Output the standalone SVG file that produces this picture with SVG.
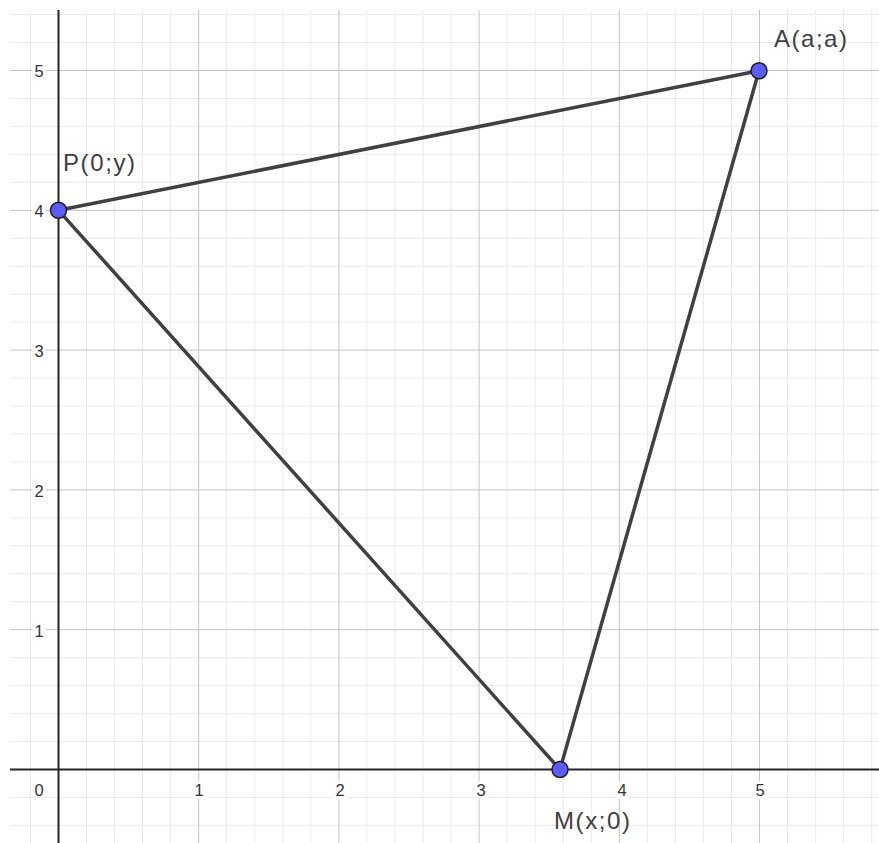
<svg xmlns="http://www.w3.org/2000/svg" width="879" height="843" viewBox="0 0 879 843">
<style>
.minor{stroke:#ebebeb;stroke-width:1;fill:none}
.major{stroke:#c4c4c4;stroke-width:1;fill:none}
.axis{stroke:#252525;stroke-width:2;fill:none}
.num{font-family:"Liberation Sans",Arial,sans-serif;font-size:16.5px;fill:#333;text-anchor:middle}
.lbl{font-family:"Liberation Sans",Arial,sans-serif;font-size:24px;fill:#404040}
.bg{fill:#fff}
.seg{stroke:#404040;stroke-width:3.5;stroke-linecap:round;fill:none}
.pt{fill:#5b5bff;stroke:#1e1e1e;stroke-width:1.5}
</style>
<rect width="879" height="843" fill="#fff"/>
<g id="grid">
<path class="minor" d="M30.5 10V843M86.5 10V843M114.6 10V843M142.6 10V843M170.7 10V843M226.7 10V843M254.8 10V843M282.8 10V843M310.9 10V843M366.9 10V843M395 10V843M423 10V843M451.1 10V843M507.1 10V843M535.2 10V843M563.2 10V843M591.3 10V843M647.3 10V843M675.4 10V843M703.4 10V843M731.5 10V843M787.5 10V843M815.6 10V843M843.6 10V843M871.7 10V843"/>
<path class="minor" d="M10 741.5H879M10 713.6H879M10 685.6H879M10 657.7H879M10 601.7H879M10 573.8H879M10 545.8H879M10 517.9H879M10 461.9H879M10 434H879M10 406H879M10 378.1H879M10 322.1H879M10 294.2H879M10 266.2H879M10 238.3H879M10 182.3H879M10 154.4H879M10 126.4H879M10 98.5H879M10 42.5H879M10 14.6H879M10 797.5H879M10 825.4H879"/>
<path class="major" d="M198.7 10V843M338.9 10V843M479.1 10V843M619.3 10V843M759.5 10V843"/>
<path class="major" d="M10 629.7H879M10 489.9H879M10 350.1H879M10 210.3H879M10 70.5H879"/>
</g>
<g id="axes">
<line class="axis" x1="58.5" y1="10" x2="58.5" y2="843"/>
<line class="axis" x1="10" y1="769.5" x2="879" y2="769.5"/>
</g>
<g id="tick-labels">
<rect class="bg" x="32" y="62" width="14" height="18"/>
<text class="num" x="39" y="77">5</text>
<rect class="bg" x="32" y="202" width="14" height="18"/>
<text class="num" x="39" y="216.5">4</text>
<rect class="bg" x="32" y="342" width="14" height="18"/>
<text class="num" x="39" y="356.5">3</text>
<rect class="bg" x="32" y="481" width="14" height="18"/>
<text class="num" x="39" y="496.5">2</text>
<rect class="bg" x="32" y="621" width="14" height="18"/>
<text class="num" x="39" y="636.5">1</text>
<text class="num" x="39" y="795.5">0</text>
<rect class="bg" x="192" y="781" width="14" height="18"/>
<text class="num" x="199" y="795.5">1</text>
<rect class="bg" x="333" y="781" width="14" height="18"/>
<text class="num" x="340" y="795.5">2</text>
<rect class="bg" x="474" y="781" width="14" height="18"/>
<text class="num" x="481" y="795.5">3</text>
<rect class="bg" x="615" y="781" width="14" height="18"/>
<text class="num" x="622" y="795.5">4</text>
<rect class="bg" x="753" y="781" width="14" height="18"/>
<text class="num" x="760" y="795.5">5</text>
</g>
<g id="connectors">
<line class="seg" x1="58.5" y1="210.3" x2="759" y2="70.8"/>
<line class="seg" x1="58.5" y1="210.3" x2="560" y2="769.5"/>
<line class="seg" x1="560" y1="769.5" x2="759" y2="70.8"/>
</g>
<g id="P">
<circle class="pt" cx="58.5" cy="210.3" r="8"/>
<text class="lbl" x="63" y="171" textLength="72" lengthAdjust="spacing">P(0;y)</text>
</g>
<g id="A">
<circle class="pt" cx="759" cy="70.8" r="8"/>
<text class="lbl" x="774" y="47" textLength="73" lengthAdjust="spacing">A(a;a)</text>
</g>
<g id="M">
<circle class="pt" cx="560" cy="769.5" r="8"/>
<text class="lbl" x="554" y="829" textLength="76" lengthAdjust="spacing">M(x;0)</text>
</g>
</svg>
